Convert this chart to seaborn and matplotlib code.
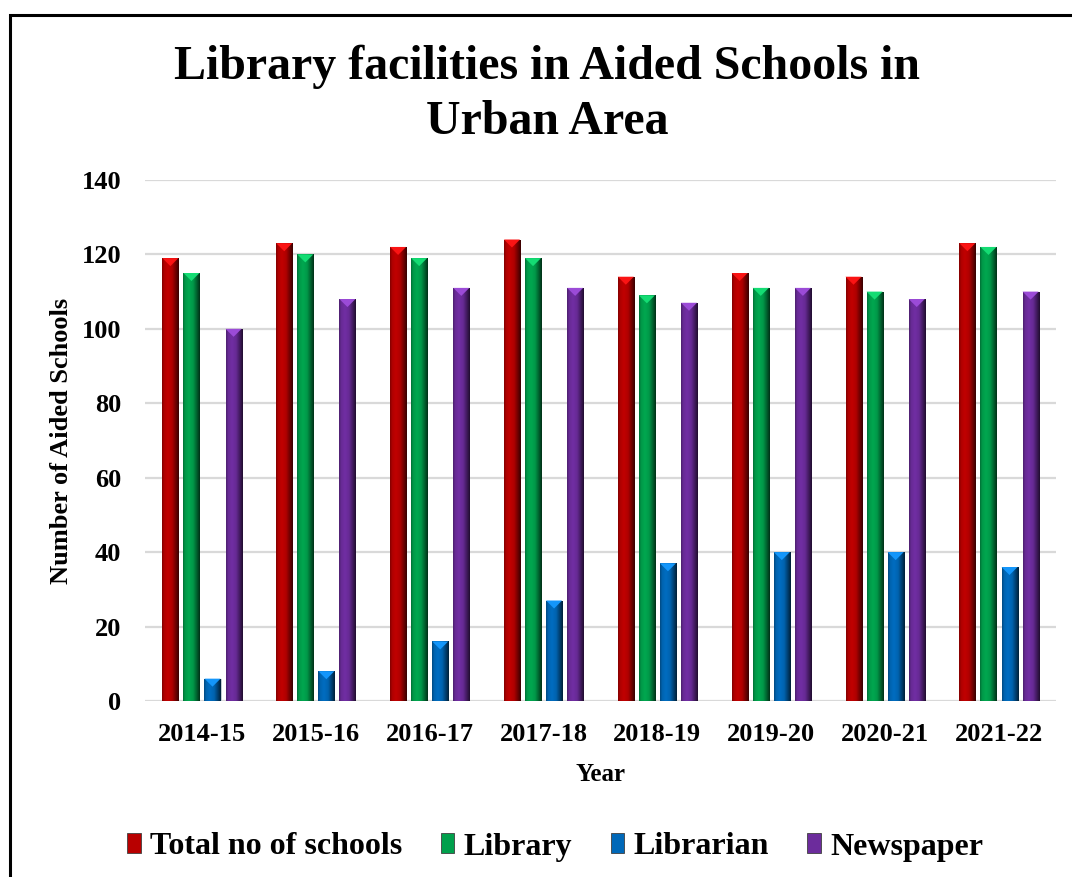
import numpy as np
import pandas as pd
import matplotlib
matplotlib.use("Agg")
import matplotlib.pyplot as plt
from matplotlib.patches import Rectangle, Polygon
from matplotlib.colors import to_rgb
import seaborn as sns

years = ["2014-15", "2015-16", "2016-17", "2017-18", "2018-19", "2019-20", "2020-21", "2021-22"]
total_schools = [119, 123, 122, 124, 114, 115, 114, 123]
library = [115, 120, 119, 119, 109, 111, 110, 122]
librarian = [6, 8, 16, 27, 37, 40, 40, 36]
newspaper = [100, 108, 111, 111, 107, 111, 108, 110]
series_names = ["Total no of schools", "Library", "Librarian", "Newspaper"]
series_colors = ["#B80000", "#00A04C", "#0068B8", "#6C2C9C"]

sns.set_theme(style="white")
plt.rcParams["font.family"] = ["Liberation Serif", "DejaVu Serif"]
plt.rcParams["font.weight"] = "bold"
plt.rcParams["text.color"] = "black"
plt.rcParams["axes.labelcolor"] = "black"
plt.rcParams["xtick.color"] = "black"
plt.rcParams["ytick.color"] = "black"

df = pd.DataFrame({
    "Year": np.tile(years, 4),
    "Series": np.repeat(series_names, len(years)),
    "Value": total_schools + library + librarian + newspaper,
})

fig = plt.figure(figsize=(10.72, 8.77), dpi=100)
ax = fig.add_axes([0.1353, 0.2007, 0.8497, 0.5941])

sns.barplot(data=df, x="Year", y="Value", hue="Series", hue_order=series_names,
            palette=series_colors, width=0.74, gap=0.24, ax=ax, legend=False,
            linewidth=0, saturation=1)

ax.set_ylim(0, 140)
ax.set_xlim(-0.5, len(years) - 0.5)
ax.set_yticks(np.arange(0, 141, 20))
ax.yaxis.grid(True, color="#D9D9D9", linewidth=1.6)
ax.set_axisbelow(True)
for s in ax.spines.values():
    s.set_visible(False)
ax.tick_params(axis="y", length=0, pad=17, labelsize=19, labelcolor="black")
ax.tick_params(axis="x", length=0, pad=16, labelsize=19, labelcolor="black")
for lab in ax.get_xticklabels() + ax.get_yticklabels():
    lab.set_fontweight("bold")
ax.set_xlabel("Year", fontsize=18, fontweight="bold", labelpad=12, color="black")
ax.set_ylabel("Number of Aided Schools", fontsize=19, fontweight="bold", labelpad=6,
              color="black")

# Bevelled shading on each bar: a horizontal light-to-dark profile plus a lighter cap
prof_t = np.array([0.0, 0.12, 0.35, 0.6, 0.85, 1.0])
prof_f = np.array([0.70, 0.95, 1.05, 0.95, 0.55, 0.30])
t = np.linspace(0, 1, 64)
f = np.interp(t, prof_t, prof_f)
px_per_x = ax.bbox.width / (ax.get_xlim()[1] - ax.get_xlim()[0])
px_per_y = ax.bbox.height / (ax.get_ylim()[1] - ax.get_ylim()[0])
for patch in list(ax.patches):
    x0, y0 = patch.get_x(), patch.get_y()
    w, h = patch.get_width(), patch.get_height()
    if h <= 0:
        continue
    base = np.array(to_rgb(patch.get_facecolor()))
    img = np.clip(base[None, :] * f[:, None], 0, 1)[None, :, :]
    im = ax.imshow(img, extent=[x0, x0 + w, y0, y0 + h], aspect="auto",
                   interpolation="bilinear", zorder=patch.get_zorder() + 0.1)
    im.set_clip_path(patch)
    cap_h = min(0.5 * w * px_per_x / px_per_y, h)
    light = np.clip(base * 1.25 + 0.08, 0, 1)
    ax.add_patch(Polygon([[x0, y0 + h], [x0 + w, y0 + h], [x0 + w / 2, y0 + h - cap_h]],
                         closed=True, facecolor=light, edgecolor="none",
                         zorder=patch.get_zorder() + 0.2))
    patch.set_edgecolor("#D0D0D0")
    patch.set_linewidth(0.6)

fig.text(0.5105, 1 - 67 / 877, "Library facilities in Aided Schools in",
         ha="center", va="center", fontsize=34.5, fontweight="bold", color="black")
fig.text(0.5105, 1 - 122 / 877, "Urban Area",
         ha="center", va="center", fontsize=34.5, fontweight="bold", color="black")

handles = [Rectangle((0, 0), 1, 1, facecolor=c, edgecolor="#404040", linewidth=0.6)
           for c in series_colors]
leg = fig.legend(handles, series_names, loc="center", bbox_to_anchor=(0.518, 1 - 847 / 877),
                 ncol=4, frameon=False, prop={"size": 23, "weight": "bold"},
                 handlelength=0.42, handleheight=0.6, handletextpad=0.3, columnspacing=1.2)
for txt in leg.get_texts():
    txt.set_color("black")

# Outer chart frame, running past the right and bottom edges
fig.patches.append(Rectangle((10 / 1072, -0.05), 1.2, 1 - 15 / 877 + 0.05,
                             transform=fig.transFigure, fill=False,
                             edgecolor="black", linewidth=2.2))

fig.savefig("out.png", dpi=100, facecolor="white")
